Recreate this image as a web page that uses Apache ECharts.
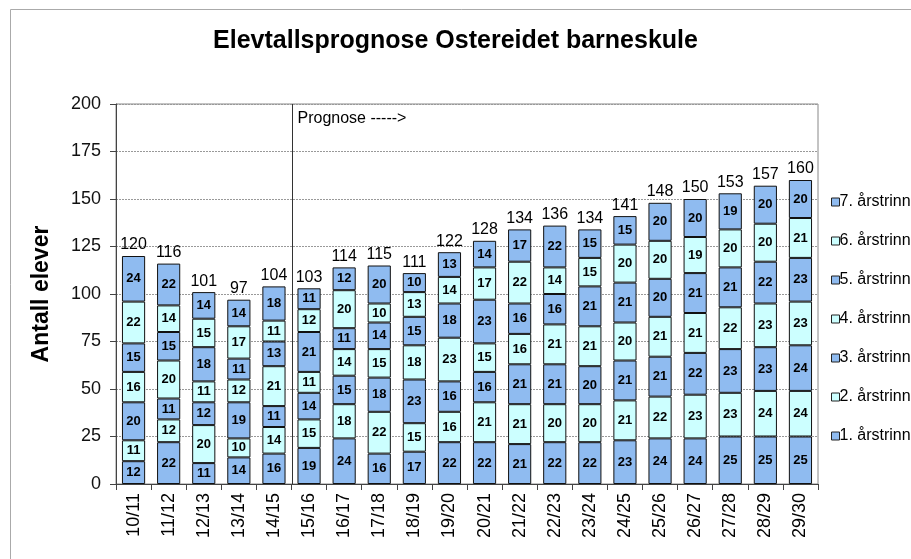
<!DOCTYPE html>
<html><head><meta charset="utf-8">
<script src="https://cdn.jsdelivr.net/npm/echarts@6/dist/echarts.min.js"></script>
<style>html,body{margin:0;padding:0;background:#fff}#c{width:911px;height:559px}</style>
</head><body><div id="c"></div>
<script>
const categories = ["10/11","11/12","12/13","13/14","14/15","15/16","16/17","17/18","18/19","19/20","20/21","21/22","22/23","23/24","24/25","25/26","26/27","27/28","28/29","29/30"];
const trinn1 = [12,22,11,14,16,19,24,16,17,22,22,21,22,22,23,24,24,25,25,25];
const trinn2 = [11,12,20,10,14,15,18,22,15,16,21,21,20,20,21,22,23,23,24,24];
const trinn3 = [20,11,12,19,11,14,15,18,23,16,16,21,21,20,21,21,22,23,23,24];
const trinn4 = [16,20,11,12,21,11,14,15,18,23,15,16,21,21,20,21,21,22,23,23];
const trinn5 = [15,15,18,11,13,21,11,14,15,18,23,16,16,21,21,20,21,21,22,23];
const trinn6 = [22,14,15,17,11,12,20,10,13,14,17,22,14,15,20,20,19,20,20,21];
const trinn7 = [24,22,14,14,18,11,12,20,10,13,14,17,22,15,15,20,20,19,20,20];
const totals = [120,116,101,97,104,103,114,115,111,122,128,134,136,134,141,148,150,153,157,160];
const yTicks = [0,25,50,75,100,125,150,175,200];
const seriesNames = ["1. årstrinn","2. årstrinn","3. årstrinn","4. årstrinn","5. årstrinn","6. årstrinn","7. årstrinn"];
const prognoseStart = 5;

const BLUE = '#8fbbf0', CYAN = '#ccffff';
const FONT = '"Liberation Sans", Arial, sans-serif';
const all = [trinn1,trinn2,trinn3,trinn4,trinn5,trinn6,trinn7];

const series = all.map((d,i)=>({
  name: seriesNames[i], type:'bar', stack:'s', data:d, barWidth:'66%',
  itemStyle:{color: i%2===0?BLUE:CYAN, borderColor:'#111', borderWidth:1},
  label:{show:true, position:'inside', color:'#000', fontFamily:FONT, fontWeight:'bold', fontSize:13}
}));
series.push({
  name:'total', type:'bar', stack:'s', data: totals.map(()=>0), barWidth:'66%',
  itemStyle:{color:'rgba(0,0,0,0)', borderWidth:0},
  label:{show:true, position:'top', distance:3, color:'#000', fontFamily:FONT, fontSize:16,
    formatter: p => String(totals[p.dataIndex])},
  tooltip:{show:false}
});

const chart = echarts.init(document.getElementById('c'));
chart.setOption({
  animation:false,
  title:{text:'Elevtallsprognose Ostereidet barneskule', left:'center', top:24,
    textStyle:{fontFamily:FONT, fontWeight:'bold', fontSize:25, color:'#000'}},
  legend:{orient:'vertical', left:826, top:189, itemWidth:8, itemHeight:8, itemGap:23, icon:'rect',
    data: seriesNames.slice().reverse(),
    textStyle:{fontFamily:FONT, fontSize:16, color:'#000', padding:[0,0,0,-5]},
    itemStyle:{borderColor:'#222', borderWidth:1}},
  grid:{left:116, top:104, width:702, height:380, show:true, borderColor:'#888', borderWidth:1},
  xAxis:{type:'category', data:categories,
    axisLine:{lineStyle:{color:'#444'}},
    axisTick:{show:true, length:6, lineStyle:{color:'#444'}},
    axisLabel:{rotate:90, fontFamily:FONT, fontSize:18, color:'#000', margin:9}},
  yAxis:{type:'value', min:0, max:200, interval:25,
    name:'Antall elever', nameLocation:'middle', nameGap:63,
    nameTextStyle:{fontFamily:FONT, fontWeight:'bold', fontSize:23, color:'#000'},
    axisLine:{show:true, lineStyle:{color:'#444'}},
    axisTick:{show:true, length:6, lineStyle:{color:'#444'}},
    axisLabel:{fontFamily:FONT, fontSize:18, color:'#111', margin:15,
      formatter: v => yTicks.includes(v) ? String(v) : ''},
    splitLine:{show:true, lineStyle:{color:'#999', type:[2,1], width:1}}},
  series
});

const x0 = chart.convertToPixel({xAxisIndex:0}, prognoseStart-1);
const x1 = chart.convertToPixel({xAxisIndex:0}, prognoseStart);
const xs = Math.round((x0+x1)/2)+0.5;
const yTop = chart.convertToPixel({yAxisIndex:0}, 200);
const yBot = chart.convertToPixel({yAxisIndex:0}, 0);
chart.setOption({graphic:[
  {type:'rect', shape:{x:10.5,y:9.5,width:1000,height:1000}, style:{fill:null, stroke:'#aaa', lineWidth:1}, silent:true},
  {type:'line', shape:{x1:xs,y1:yTop,x2:xs,y2:yBot}, style:{stroke:'#333', lineWidth:1}, silent:true},
  {type:'text', x:xs+5, y:yTop+7, style:{text:'Prognose ----->', font:'16px '+FONT, fill:'#000'}, silent:true}
]});
</script></body></html>
